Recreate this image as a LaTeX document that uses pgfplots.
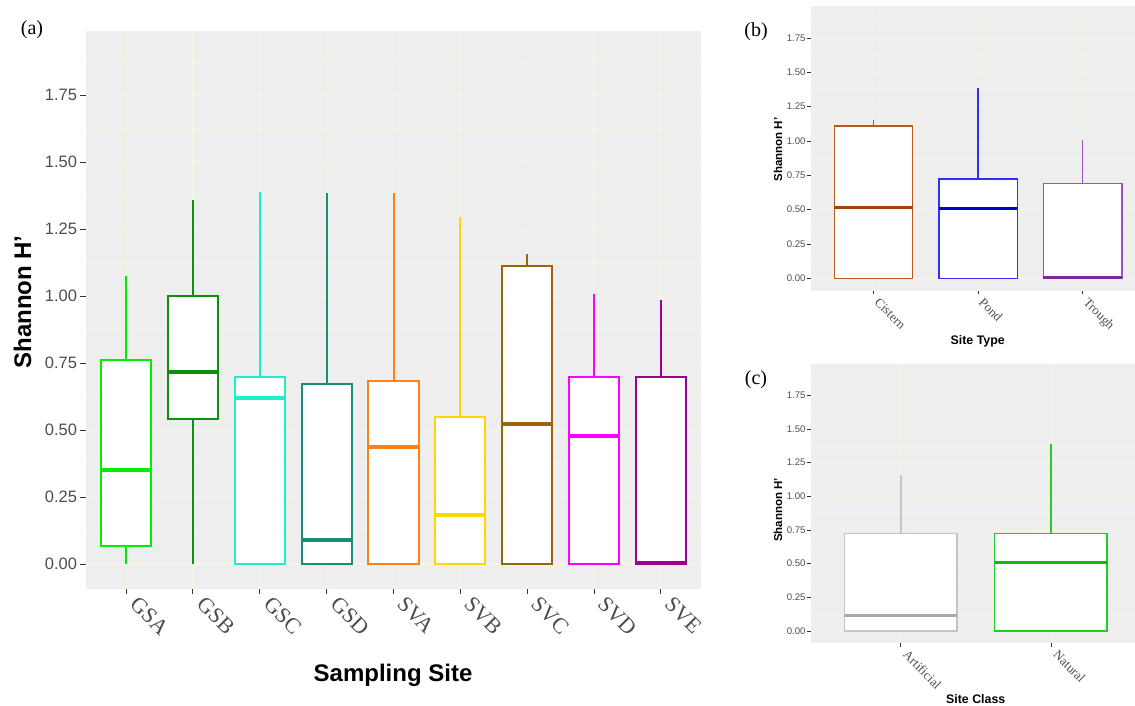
\documentclass[border=0pt]{standalone}
\usepackage{fontspec}
\setmainfont{Liberation Sans}
\newfontfamily\serif{Liberation Serif}
\usepackage{pgfplots}
\pgfplotsset{compat=1.18}
\usepgfplotslibrary{statistics}
\definecolor{bg}{HTML}{EEEEEE}
\definecolor{gridc}{HTML}{F5F5E4}
\definecolor{labc}{HTML}{4D4D4D}
\definecolor{tickc}{HTML}{333333}
\definecolor{cGSA}{HTML}{00EE00}
\definecolor{cGSB}{HTML}{0E8F0E}
\definecolor{cGSC}{HTML}{20EEC8}
\definecolor{cGSD}{HTML}{178E78}
\definecolor{cSVA}{HTML}{FF8015}
\definecolor{cSVB}{HTML}{FFD700}
\definecolor{cSVC}{HTML}{9A6508}
\definecolor{cSVD}{HTML}{FF00FF}
\definecolor{cSVE}{HTML}{9B0094}
\definecolor{cCis}{HTML}{B8591F}
\definecolor{cCisM}{HTML}{A44510}
\definecolor{cPond}{HTML}{3030F0}
\definecolor{cPondM}{HTML}{0000CC}
\definecolor{cTro}{HTML}{9A52C8}
\definecolor{cTroM}{HTML}{7A2A9A}
\definecolor{cArt}{HTML}{C4C4C4}
\definecolor{cArtM}{HTML}{A8A8A8}
\definecolor{cNat}{HTML}{22CC22}
\definecolor{cNatM}{HTML}{10BB10}
\pgfplotsset{
  gg/.style={scale only axis, anchor=south west,
    axis background/.style={fill=bg},
    axis line style={draw=none},
    tick align=outside, tick pos=left,
    tick style={color=tickc, line width=1pt},
    ytick={0,0.25,0.5,0.75,1,1.25,1.5,1.75},
    minor ytick={0.125,0.375,0.625,0.875,1.125,1.375,1.625,1.875},
    minor tick length=0pt,
    ymajorgrids, yminorgrids, xmajorgrids,
    major grid style={color=gridc, line width=1.2pt},
    minor grid style={color=gridc, line width=0.7pt},
    boxplot/draw direction=y,
    /pgf/number format/fixed, /pgf/number format/fixed zerofill,
    /pgf/number format/precision=2,
    /pgf/number format/assume math mode=true,
  }
}
% box: position, lw, q1, med, q3, uw, colour, median colour, median lw
\newcommand{\bx}[9]{\addplot[boxplot prepared={draw position=#1, lower whisker=#2, lower quartile=#3, median=#4, upper quartile=#5, upper whisker=#6, box extend=0.75, whisker extend=0, every median/.style={draw=#8, line width=#9}}, draw=#7, fill=white, solid] coordinates {};}
\begin{document}
\begin{tikzpicture}
\path[use as bounding box] (0,0) rectangle (1135pt,706pt);
% ---------- panel (a)
\begin{axis}[gg, at={(86pt,117pt)}, width=615pt, height=558pt,
  xmin=0.4, xmax=9.6, ymin=-0.093, ymax=1.99,
  xtick={1,2,3,4,5,6,7,8,9},
  xticklabels={GSA,GSB,GSC,GSD,SVA,SVB,SVC,SVD,SVE},
  major tick length=5.5pt,
  xticklabel style={xshift=13pt, yshift=1pt, font=\serif\fontsize{22}{22}\selectfont, rotate=-45, anchor=north west, color=labc, inner sep=1pt},
  yticklabel style={font=\fontsize{16.5}{18}\selectfont, color=labc},
  every axis plot/.append style={line width=2pt}]
\bx{1}{0}{0.067}{0.353}{0.760}{1.077}{cGSA}{cGSA}{4pt}
\bx{2}{0}{0.540}{0.716}{1.001}{1.358}{cGSB}{cGSB}{4pt}
\bx{3}{0}{0}{0.620}{0.698}{1.388}{cGSC}{cGSC}{4pt}
\bx{4}{0}{0}{0.090}{0.673}{1.385}{cGSD}{cGSD}{4pt}
\bx{5}{0}{0}{0.438}{0.682}{1.385}{cSVA}{cSVA}{4pt}
\bx{6}{0}{0}{0.183}{0.550}{1.296}{cSVB}{cSVB}{4pt}
\bx{7}{0}{0}{0.523}{1.112}{1.157}{cSVC}{cSVC}{4pt}
\bx{8}{0}{0}{0.478}{0.698}{1.010}{cSVD}{cSVD}{4pt}
\bx{9}{0}{0}{0.003}{0.698}{0.984}{cSVE}{cSVE}{4pt}
\end{axis}
\node[font=\serif\fontsize{20}{20}\selectfont] at (32pt,676pt) {(a)};
\node[font=\bfseries\fontsize{24}{24}\selectfont, rotate=90] at (22.5pt,404pt) {Shannon H’};
\node[font=\bfseries\fontsize{24}{24}\selectfont, anchor=base] at (393pt,24pt) {Sampling Site};
% ---------- panel (b)
\begin{axis}[gg, at={(810.7pt,415pt)}, width=324.3pt, height=285pt,
  xmin=0.4, xmax=3.5, ymin=-0.092, ymax=1.983,
  xtick={1,2,3}, xticklabels={Cistern,Pond,Trough},
  major tick length=3.5pt,
  tick style={line width=0.7pt},
  major grid style={line width=0.8pt}, minor grid style={line width=0.5pt},
  xticklabel style={xshift=6.5pt, yshift=-1pt, font=\serif\fontsize{13}{13}\selectfont, rotate=-45, anchor=north west, color=labc, inner sep=1pt},
  yticklabel style={font=\fontsize{9.6}{11}\selectfont, color=labc, inner sep=1.5pt},
  every axis plot/.append style={line width=1.4pt}]
\bx{1}{0}{0}{0.519}{1.109}{1.153}{cCis}{cCisM}{3pt}
\bx{2}{0}{0}{0.507}{0.723}{1.388}{cPond}{cPondM}{3pt}
\bx{3}{0}{0}{0.003}{0.692}{1.007}{cTro}{cTroM}{3pt}
\end{axis}
\node[font=\serif\fontsize{20}{20}\selectfont] at (756pt,674pt) {(b)};
\node[font=\bfseries\fontsize{11.5}{12}\selectfont, rotate=90] at (778pt,556.5pt) {Shannon H’};
\node[font=\bfseries\fontsize{12.4}{13}\selectfont, anchor=base] at (977.7pt,361pt) {Site Type};
% ---------- panel (c)
\begin{axis}[gg, at={(810.7pt,62.7pt)}, width=324.3pt, height=279pt,
  xmin=0.4, xmax=2.56, ymin=-0.091, ymax=1.98,
  xtick={1,2}, xticklabels={Artificial,Natural},
  major tick length=3.5pt,
  tick style={line width=0.7pt},
  major grid style={line width=0.8pt}, minor grid style={line width=0.5pt},
  xticklabel style={xshift=8pt, yshift=-1pt, font=\serif\fontsize{13}{13}\selectfont, rotate=-45, anchor=north west, color=labc, inner sep=1pt},
  yticklabel style={font=\fontsize{9.6}{11}\selectfont, color=labc, inner sep=1.5pt},
  every axis plot/.append style={line width=1.5pt}]
\bx{1}{0}{0}{0.119}{0.725}{1.156}{cArt}{cArtM}{3pt}
\bx{2}{0}{0}{0.512}{0.725}{1.386}{cNat}{cNatM}{3pt}
\end{axis}
\node[font=\serif\fontsize{20}{20}\selectfont] at (756pt,326pt) {(c)};
\node[font=\bfseries\fontsize{11.5}{12}\selectfont, rotate=90] at (778pt,196pt) {Shannon H’};
\node[font=\bfseries\fontsize{12.4}{13}\selectfont, anchor=base] at (975.7pt,2pt) {Site Class};
\end{tikzpicture}
\end{document}
